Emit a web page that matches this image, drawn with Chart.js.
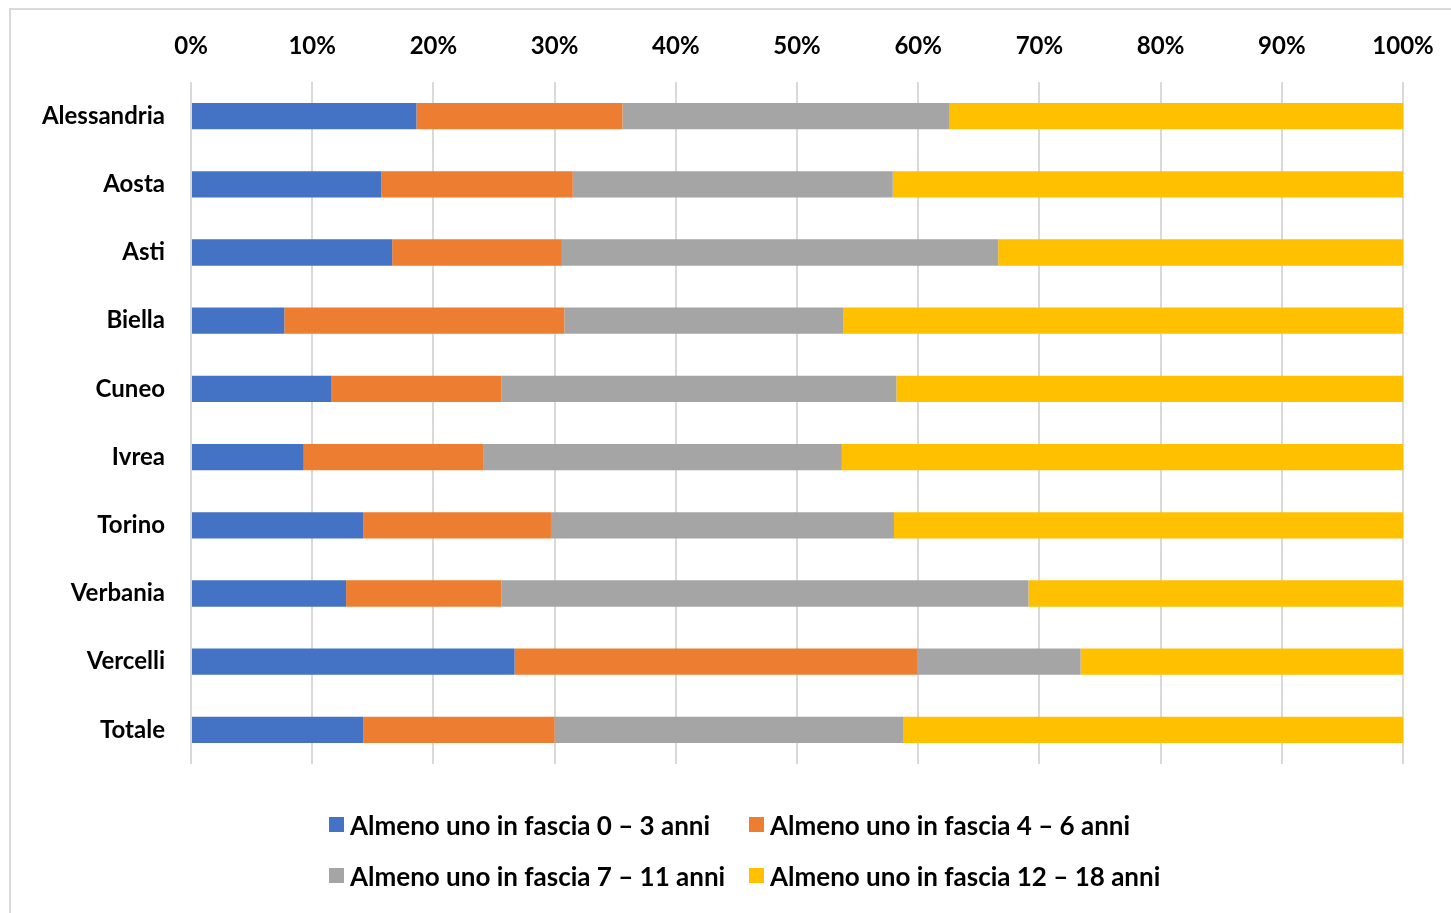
<!DOCTYPE html>
<html>
<head>
<meta charset="utf-8">
<script src="https://cdn.jsdelivr.net/npm/chart.js@4/dist/chart.umd.min.js"></script>
<style>
  body { margin: 0; background: #fff; overflow: hidden; }
  #frame { position: absolute; left: 9px; top: 8px; width: 1500px; height: 1000px; border: 2px solid #d9d9d9; }
  #chart { position: absolute; left: 0; top: 0; }
  #legend { position: absolute; left: 329px; top: 799px; display: grid; grid-template-columns: 420px 420px; grid-auto-rows: 51px;
            font: bold 26px Lato, sans-serif; color: #000; }
  #legend .item { display: flex; align-items: center; white-space: nowrap; }
  #legend .box { width: 15px; height: 15px; margin-right: 6px; flex: none; }
</style>
</head>
<body>
<div id="frame"></div>
<canvas id="chart" width="1451" height="913"></canvas>
<div id="legend"></div>
<script>
const labels = ['Alessandria', 'Aosta', 'Asti', 'Biella', 'Cuneo', 'Ivrea', 'Torino', 'Verbania', 'Vercelli', 'Totale'];
const seriesNames = [
  'Almeno uno in fascia 0 – 3 anni',
  'Almeno uno in fascia 4 – 6 anni',
  'Almeno uno in fascia 7 – 11 anni',
  'Almeno uno in fascia 12 – 18 anni'
];
const fascia0_3 = [18.6, 15.7, 16.6, 7.7, 11.6, 9.3, 14.2, 12.8, 26.7, 14.2];
const fascia4_6 = [17.0, 15.8, 14.0, 23.1, 14.0, 14.8, 15.5, 12.8, 33.2, 15.8];
const fascia7_11 = [27.0, 26.4, 36.0, 23.0, 32.6, 29.6, 28.3, 43.5, 13.5, 28.8];
const fascia12_18 = [37.4, 42.1, 33.4, 46.2, 41.8, 46.3, 42.0, 30.9, 26.6, 41.2];
const xTicks = [0, 10, 20, 30, 40, 50, 60, 70, 80, 90, 100];

const colors = ['#4472C4', '#ED7D31', '#A5A5A5', '#FFC000'];
const values = [fascia0_3, fascia4_6, fascia7_11, fascia12_18];
const font = { family: 'Lato, sans-serif', size: 24, weight: 'bold' };

const ctx = document.getElementById('chart');
new Chart(ctx, {
  type: 'bar',
  data: {
    labels: labels,
    datasets: values.map((v, i) => ({
      label: seriesNames[i],
      data: v,
      backgroundColor: colors[i],
      borderWidth: 0,
      barPercentage: 0.385,
      categoryPercentage: 1
    }))
  },
  options: {
    indexAxis: 'y',
    responsive: false,
    animation: false,
    layout: { padding: { left: 0, right: 48, top: 0, bottom: 149 } },
    plugins: {
      legend: { display: false },
      tooltip: { enabled: false }
    },
    scales: {
      x: {
        position: 'top',
        stacked: true,
        min: 0,
        max: 100,
        afterBuildTicks: s => { s.ticks = xTicks.map(v => ({ value: v })); },
        afterFit: s => { s.height = 82; s.paddingLeft = 0; s.paddingRight = 0; },
        ticks: { callback: v => v + '%', font: font, color: '#000', padding: 21, maxRotation: 0 },
        grid: { color: '#d9d9d9', lineWidth: 2, drawTicks: false },
        border: { display: false }
      },
      y: {
        stacked: true,
        afterFit: s => { s.width = 191; },
        ticks: { font: font, color: '#000', padding: 26 },
        grid: { display: false, drawTicks: false },
        border: { display: false }
      }
    }
  }
});

// legend laid out as a two-column grid
const legend = document.getElementById('legend');
seriesNames.forEach((name, i) => {
  const item = document.createElement('div');
  item.className = 'item';
  const box = document.createElement('span');
  box.className = 'box';
  box.style.background = colors[i];
  const text = document.createElement('span');
  text.textContent = name;
  item.appendChild(box);
  item.appendChild(text);
  legend.appendChild(item);
});
</script>
</body>
</html>
